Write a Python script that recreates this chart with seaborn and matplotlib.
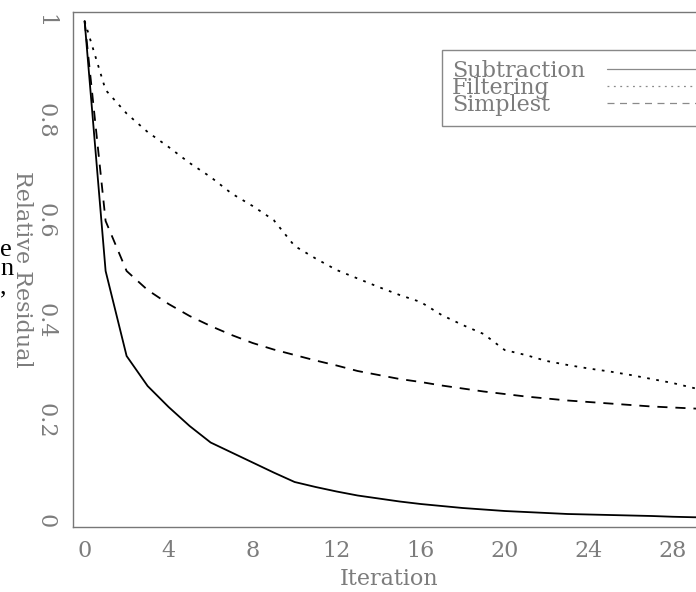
import numpy as np
import pandas as pd
import matplotlib
matplotlib.use("Agg")
import matplotlib.pyplot as plt
from matplotlib.transforms import Bbox
import seaborn as sns

iterations = list(range(0, 31))
subtraction = [1.0, 0.50, 0.33, 0.27, 0.228, 0.19, 0.157, 0.137, 0.117, 0.097,
               0.078, 0.068, 0.059, 0.051, 0.045, 0.039, 0.034, 0.030, 0.026, 0.023,
               0.020, 0.018, 0.016, 0.014, 0.013, 0.012, 0.011, 0.010, 0.0085, 0.0075, 0.007]
filtering = [1.0, 0.862, 0.815, 0.778, 0.748, 0.716, 0.688, 0.655, 0.630, 0.602,
             0.550, 0.525, 0.502, 0.485, 0.468, 0.452, 0.438, 0.412, 0.392, 0.374,
             0.342, 0.332, 0.320, 0.312, 0.305, 0.299, 0.292, 0.284, 0.276, 0.266, 0.258]
simplest = [1.0, 0.60, 0.50, 0.462, 0.434, 0.41, 0.39, 0.372, 0.356, 0.343,
            0.332, 0.321, 0.311, 0.300, 0.292, 0.284, 0.278, 0.271, 0.265, 0.259,
            0.254, 0.249, 0.245, 0.241, 0.238, 0.235, 0.232, 0.229, 0.227, 0.225, 0.223]
methods = ["Subtraction", "Filtering", "Simplest"]
x_ticks = [0, 4, 8, 12, 16, 20, 24, 28]
y_ticks = [0, 0.2, 0.4, 0.6, 0.8, 1]
y_ticklabels = ["0", "0.2", "0.4", "0.6", "0.8", "1"]
side_fragment = "e\nn\n,"

df = pd.DataFrame({
    "Iteration": iterations * 3,
    "Residual": subtraction + filtering + simplest,
    "Method": sum([[m] * len(iterations) for m in methods], []),
})

sns.set_style("white")
plt.rcParams["font.family"] = ["DejaVu Serif"]

W, H = 696, 592
fig = plt.figure(figsize=(W / 100, H / 100), dpi=100)
ax_l, ax_r, ax_t, ax_b = 72.7, 705.0, 11.7, 527.3
ax = fig.add_axes([ax_l / W, 1 - ax_b / H, (ax_r - ax_l) / W, (ax_b - ax_t) / H])

gray = "#7c7c7c"
lw = 1.3
sns.lineplot(data=df, x="Iteration", y="Residual", style="Method",
             style_order=methods, color="black", linewidth=lw,
             dashes={"Subtraction": "", "Filtering": (1.5, 3.6),
                     "Simplest": (5.6, 4.4)},
             ax=ax, legend="full")

ax.set_xlim(-0.567, 29.54)
ax.set_ylim(-0.0126, 1.0186)
ax.set_xticks(x_ticks)
ax.set_yticks(y_ticks)
ax.set_yticklabels(y_ticklabels)

for s in ax.spines.values():
    s.set_color("#777777")
    s.set_linewidth(1.0)

ax.tick_params(direction="out", length=5.5, width=1, color="#a0a0a0",
               labelsize=16, labelcolor=gray)
ax.tick_params(axis="x", pad=3.5)
ax.tick_params(axis="y", pad=6.0, labelrotation=-90)
for t in ax.get_yticklabels():
    t.set_va("center")

ax.set_xlabel("Iteration", fontsize=16, color=gray)
ax.xaxis.set_label_coords(0.5, -(579 - ax_b) / (ax_b - ax_t))
ax.xaxis.label.set_va("center")
ax.set_ylabel("Relative Residual", fontsize=16, color=gray)
ax.yaxis.label.set_rotation(-90)
ax.yaxis.label.set_va("center")
ax.yaxis.label.set_ha("center")
ax.yaxis.set_label_coords(-(ax_l - 21.5) / (ax_r - ax_l), 0.5)

handles, labels = ax.get_legend_handles_labels()
leg = ax.legend(handles, labels, loc="upper left",
                bbox_to_anchor=(441.7 / W, 1 - 50 / H), bbox_transform=fig.transFigure,
                borderaxespad=0, frameon=True, fancybox=False, shadow=False,
                framealpha=1, edgecolor="#888888", fontsize=16,
                markerfirst=False, handlelength=4.3, handletextpad=1.0,
                labelspacing=-0.22, borderpad=0.45)
leg.get_frame().set_linewidth(1.0)
for t in leg.get_texts():
    t.set_color(gray)
for h in leg.get_lines():
    h.set_color("#8a8a8a")
    h.set_linewidth(0.9)

# left-align legend texts in a fixed-width column (handles aligned after it)
fig.canvas.draw()
renderer = fig.canvas.get_renderer()
try:
    maxw = max(t.get_window_extent(renderer).width for t in leg.get_texts())
    for col in leg._legend_handle_box.get_children():
        for row in col.get_children():
            ta = row.get_children()[0]
            orig = ta.get_bbox

            def new_bbox(rend, _o=orig):
                b = _o(rend)
                return Bbox.from_bounds(b.x0, b.y0, maxw, b.height)
            ta.get_bbox = new_bbox
except Exception:
    pass

# fragments of surrounding black text at the left edge
fig.text(0.3 / W, 1 - 269 / H, side_fragment, fontsize=19, color="black",
         family=["Liberation Serif"], ha="left", va="center",
         linespacing=0.8)

fig.savefig("out.png", dpi=100)
